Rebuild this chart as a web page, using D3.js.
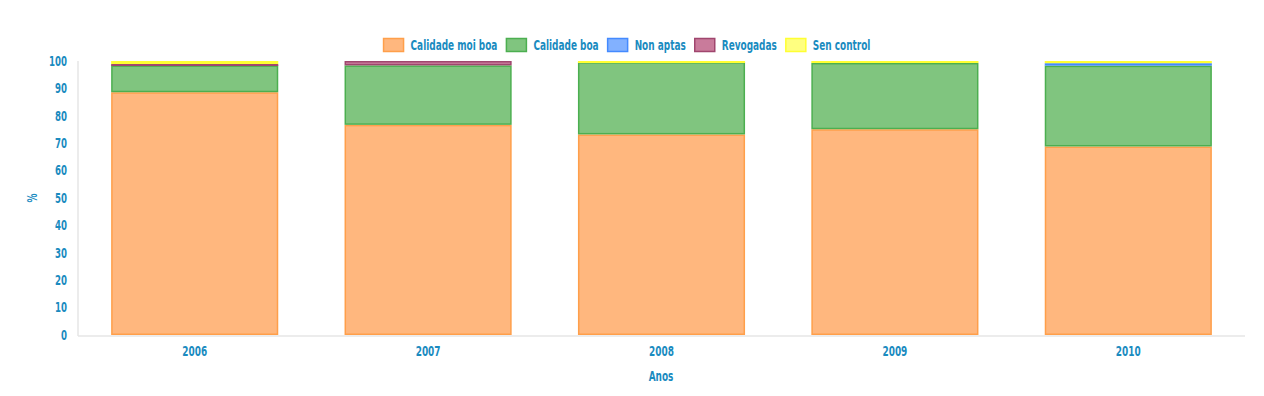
<!DOCTYPE html>
<html>
<head>
<meta charset="utf-8">
<script src="https://cdn.jsdelivr.net/npm/d3@7"></script>
<style>
  body { margin: 0; background: #fff; }
  svg text { font-family: "DejaVu Sans", sans-serif; font-stretch: condensed; font-weight: bold; fill: #1a8bbf; }
</style>
</head>
<body>
<svg id="chart" width="1264" height="396"></svg>
<script>
// data (percent of beaches per year)
const years = ['2006', '2007', '2008', '2009', '2010']
const seriesNames = ['Calidade moi boa', 'Calidade boa', 'Non aptas', 'Revogadas', 'Sen control']
const moiBoa = [88.6, 76.7, 73.2, 75.1, 68.8]
const boa = [9.8, 21.7, 26.4, 24.2, 29.5]
const nonAptas = [0, 0, 0, 0, 0.9]
const revogadas = [0.5, 1.6, 0, 0, 0]
const senControl = [1.1, 0, 0.4, 0.7, 0.8]
const yTicks = [0, 10, 20, 30, 40, 50, 60, 70, 80, 90, 100]

const fills = ['#ffb77e', '#80c57f', '#82b1ff', '#c97b9b', '#ffff80']
const strokes = ['#ff9f4a', '#4caf50', '#448aff', '#a0466e', '#ffff33']

const margin = { top: 61, right: 19, bottom: 61, left: 78 }
const W = 1264, H = 396
const svg = d3.select('#chart')

const table = years.map((y, i) => ({
  year: y,
  'Calidade moi boa': moiBoa[i],
  'Calidade boa': boa[i],
  'Non aptas': nonAptas[i],
  'Revogadas': revogadas[i],
  'Sen control': senControl[i]
}))
const stacked = d3.stack().keys(seriesNames)(table)

const x = d3.scaleBand()
  .domain(years)
  .range([margin.left, W - margin.right])
  .paddingInner(0.284)
  .paddingOuter(0.142)

const y = d3.scaleLinear()
  .domain([0, 100])
  .range([H - margin.bottom, margin.top])

// axis lines
svg.append('line')
  .attr('x1', margin.left).attr('x2', margin.left)
  .attr('y1', y(100)).attr('y2', y(0) + 1)
  .attr('stroke', '#e6e6e6').attr('stroke-width', 1.5)
svg.append('line')
  .attr('x1', margin.left).attr('x2', W - margin.right)
  .attr('y1', y(0) + 1).attr('y2', y(0) + 1)
  .attr('stroke', '#e6e6e6').attr('stroke-width', 1.5)

// bars
const groups = svg.append('g').selectAll('g')
  .data(stacked)
  .join('g')
  .attr('fill', (d, i) => fills[i])
  .attr('stroke', (d, i) => strokes[i])

groups.selectAll('rect')
  .data(d => d.filter(s => s[1] - s[0] > 0))
  .join('rect')
  .attr('x', d => x(d.data.year) + 0.75)
  .attr('width', x.bandwidth() - 1.5)
  .attr('y', d => y(d[1]) + 0.75)
  .attr('height', d => Math.max(0.5, y(d[0]) - y(d[1]) - 1.5))
  .attr('stroke-width', 1.5)

// squeeze text horizontally to mimic the narrow face of the original
const squeeze = 0.71
function label(g, px, py, str, size, anchor) {
  return g.append('text')
    .attr('transform', `translate(${px},${py}) scale(${squeeze},1)`)
    .attr('dy', '0.35em')
    .attr('text-anchor', anchor)
    .attr('font-size', size)
    .text(str)
}

// y ticks
const yg = svg.append('g')
yTicks.forEach(t => label(yg, 67, y(t), t, 13.5, 'end'))

// x ticks
const xg = svg.append('g')
years.forEach(yr => label(xg, x(yr) + x.bandwidth() / 2, 351, yr, 14, 'middle'))

// axis titles
label(svg, 661, 376, 'Anos', 14, 'middle')
svg.append('text')
  .attr('transform', `translate(32,198) rotate(-90) scale(${squeeze},1)`)
  .attr('dy', '0.35em')
  .attr('text-anchor', 'middle').attr('font-size', 14)
  .text('%')

// legend
const items = svg.append('g').selectAll('g')
  .data(seriesNames)
  .join('g')
items.append('rect')
  .attr('width', 20).attr('height', 13)
  .attr('y', 38.5)
  .attr('fill', (d, i) => fills[i])
  .attr('stroke', (d, i) => strokes[i])
  .attr('stroke-width', 1.5)
items.append('text')
  .attr('transform', `translate(27,45) scale(${squeeze},1)`)
  .attr('dy', '0.35em')
  .attr('font-size', 14)
  .text(d => d)
let widths = []
items.each(function () { widths.push(27 + squeeze * this.querySelector('text').getComputedTextLength()) })
const gap = 9
const total = d3.sum(widths) + gap * (widths.length - 1)
let cx = 627 - total / 2
items.attr('transform', (d, i) => {
  const t = `translate(${cx},0)`
  cx += widths[i] + gap
  return t
})
</script>
</body>
</html>
